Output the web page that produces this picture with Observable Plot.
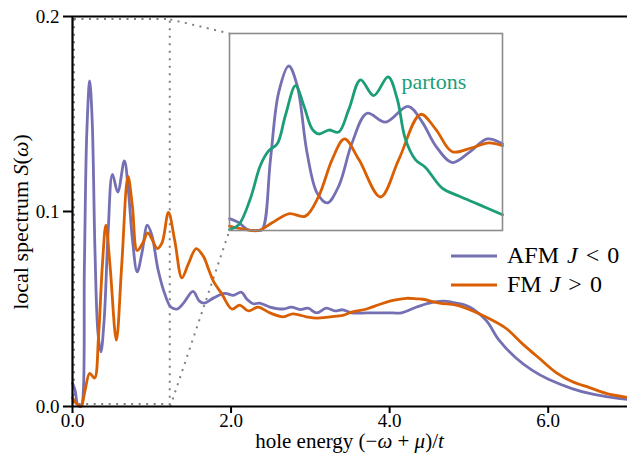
<!DOCTYPE html>
<html><head><meta charset="utf-8">
<script src="https://cdn.jsdelivr.net/npm/d3@7"></script>
<script src="https://cdn.jsdelivr.net/npm/@observablehq/plot@0.6"></script>
<style>
body{margin:0;background:#fff;}
#wrap{position:relative;width:627px;height:453px;font-family:"Liberation Serif","Times New Roman",serif;color:#000;}
#wrap svg{display:block}
.lbl{position:absolute;white-space:nowrap;line-height:1;}
#wrap g[aria-label^="x-axis"], #wrap g[aria-label^="y-axis"]{stroke-width:2px;}
</style></head><body><div id="wrap"></div>
<script>
// ---------- data ----------
const afmX = [0.00,0.034,0.065,0.10,0.12,0.15,0.18,0.217,0.248,0.284,0.321,0.358,0.40,0.449,0.504,0.571,0.654,0.706,0.755,0.816,0.877,0.944,1.00,1.08,1.17,1.24,1.32,1.40,1.52,1.60,1.66,1.78,1.92,2.03,2.13,2.20,2.28,2.36,2.49,2.66,2.76,2.87,2.97,3.08,3.20,3.31,3.41,3.52,3.71,3.87,4.04,4.15,4.34,4.50,4.67,4.84,4.95,5.05,5.22,5.38,5.59,5.80,6.01,6.30,6.52,6.73,7.00];
const afmY = [0.012,0.008,0.001,0.0,0.001,0.072,0.140,0.167,0.147,0.079,0.038,0.028,0.045,0.089,0.119,0.110,0.126,0.110,0.086,0.069,0.079,0.093,0.088,0.070,0.057,0.051,0.050,0.053,0.059,0.054,0.053,0.0557,0.058,0.057,0.0586,0.055,0.0527,0.053,0.051,0.050,0.051,0.0497,0.0504,0.048,0.0504,0.049,0.0496,0.048,0.048,0.048,0.048,0.048,0.051,0.053,0.054,0.053,0.052,0.050,0.044,0.034,0.025,0.0185,0.0138,0.0092,0.0067,0.0051,0.0036];
const fmX = [0.00,0.046,0.107,0.156,0.217,0.278,0.327,0.376,0.421,0.474,0.553,0.62,0.70,0.755,0.816,0.888,0.95,1.00,1.07,1.13,1.21,1.29,1.38,1.46,1.56,1.65,1.72,1.78,1.88,2.01,2.11,2.22,2.34,2.49,2.66,2.78,2.95,3.08,3.25,3.41,3.52,3.71,3.87,4.04,4.21,4.35,4.42,4.63,4.84,5.05,5.26,5.47,5.68,5.89,6.10,6.30,6.52,6.73,7.00];
const fmY = [0.0044,0.0017,0.0,0.0078,0.017,0.0146,0.035,0.072,0.093,0.072,0.034,0.072,0.118,0.103,0.080,0.084,0.089,0.086,0.081,0.084,0.0995,0.085,0.066,0.073,0.081,0.077,0.070,0.064,0.058,0.050,0.052,0.049,0.051,0.048,0.046,0.0475,0.046,0.0453,0.046,0.0467,0.0484,0.050,0.0523,0.0544,0.0555,0.0552,0.055,0.053,0.052,0.049,0.045,0.040,0.032,0.0246,0.0174,0.0128,0.0097,0.0067,0.0046];
const partonX = [0.00,0.034,0.076,0.113,0.144,0.175,0.205,0.242,0.272,0.303,0.327,0.364,0.40,0.437,0.48,0.528,0.581,0.614,0.644,0.681,0.718,0.779,0.84,0.912,1.00];
const partonY = [0.001,0.006,0.032,0.066,0.081,0.088,0.117,0.147,0.127,0.103,0.098,0.102,0.100,0.123,0.153,0.137,0.156,0.134,0.093,0.072,0.064,0.043,0.035,0.0265,0.016];

const xDomain = [0, 7];
const yDomain = [0, 0.2];
const xTicks = [0, 2, 4, 6];
const yTicks = [0, 0.1, 0.2];
const insetXDomain = [0, 1];
const insetYDomain = [0, 0.2];
const zoomBox = {x1: 0.025, x2: 1.233, y1: 0.001, y2: 0.1985};
const insetBox = {x1: 1.98, x2: 5.42, y1: 0.0903, y2: 0.1913};
const colors = {AFM: "#7570b3", FM: "#d95f02", partons: "#1b9e77"};
const partonsLabel = {x: 0.632, y: 0.149, text: "partons"};

const toRows = (xs, ys, s) => xs.map((x, i) => ({x, y: ys[i], s}));
const afm = toRows(afmX, afmY, "AFM");
const fm = toRows(fmX, fmY, "FM");
const partons = toRows(partonX, partonY, "partons");

const W = 627, H = 453, mL = 72, mR = 0, mT = 16, mB = 47;
const serif = "'Liberation Serif', 'Times New Roman', serif";
const lineOpts = (s) => ({x: "x", y: "y", stroke: colors[s], strokeWidth: 2.8, curve: "catmull-rom"});
const dotted = {stroke: "#808080", strokeWidth: 2, strokeDasharray: "2,5.5"};

const connectors = [
  {x1: zoomBox.x2, y1: zoomBox.y2, x2: insetBox.x1, y2: insetBox.y2},
  {x1: zoomBox.x2, y1: 0, x2: insetBox.x1, y2: insetBox.y1}
];

const main = Plot.plot({
  width: W, height: H, marginLeft: mL, marginRight: mR, marginTop: mT, marginBottom: mB,
  style: {fontFamily: serif, fontSize: "19px", background: "white", color: "black", overflow: "visible"},
  x: {domain: xDomain, ticks: xTicks, tickFormat: d3.format(".1f"), tickSize: 7, tickPadding: 0, label: null},
  y: {domain: yDomain, ticks: yTicks, tickFormat: d3.format(".1f"), tickSize: 9, tickPadding: 4, label: null},
  marks: [
    Plot.rect([zoomBox], {x1: "x1", x2: "x2", y1: "y1", y2: "y2", fill: "none", ...dotted}),
    Plot.link(connectors, {x1: "x1", y1: "y1", x2: "x2", y2: "y2", ...dotted}),
    Plot.line(afm, lineOpts("AFM")),
    Plot.line(fm, lineOpts("FM")),
    Plot.ruleY([yDomain[1]], {stroke: "black", strokeWidth: 2}),
    Plot.ruleY([yDomain[0]], {stroke: "black", strokeWidth: 2}),
    Plot.ruleX([xDomain[0]], {stroke: "black", strokeWidth: 2.2})
  ]
});

const wrap = document.getElementById("wrap");
wrap.appendChild(main);

// inset placement from the main scales
const scX = main.scale("x"), scY = main.scale("y");
const fx = scX && scX.apply ? (v) => scX.apply(v) : d3.scaleLinear(xDomain, [mL, W - mR]);
const fy = scY && scY.apply ? (v) => scY.apply(v) : d3.scaleLinear(yDomain, [H - mB, mT]);
const iL = fx(insetBox.x1), iR = fx(insetBox.x2), iT = fy(insetBox.y2), iB = fy(insetBox.y1);
const iW = Math.round(iR - iL), iH = Math.round(iB - iT);

const inX = (d) => d.x >= insetXDomain[0] && d.x <= insetXDomain[1];
const inset = Plot.plot({
  width: iW, height: iH, margin: 0,
  style: {fontFamily: serif, background: "white", overflow: "visible"},
  x: {domain: insetXDomain, axis: null},
  y: {domain: insetYDomain, axis: null},
  marks: [
    Plot.line(afm.filter(inX), lineOpts("AFM")),
    Plot.line(fm.filter(inX), lineOpts("FM")),
    Plot.line(partons, lineOpts("partons")),
    Plot.frame({stroke: "#8c8c8c", strokeWidth: 1.6})
  ]
});
inset.style.position = "absolute";
inset.style.left = iL + "px";
inset.style.top = iT + "px";
wrap.appendChild(inset);

// "partons" label placed through the inset's scales
const isx = inset.scale("x"), isy = inset.scale("y");
const gx = isx && isx.apply ? (v) => isx.apply(v) : d3.scaleLinear(insetXDomain, [0, iW]);
const gy = isy && isy.apply ? (v) => isy.apply(v) : d3.scaleLinear(insetYDomain, [iH, 0]);
const pl = document.createElement("div");
pl.className = "lbl"; pl.textContent = partonsLabel.text;
pl.style.fontSize = "22px"; pl.style.color = colors.partons;
pl.style.left = (iL + gx(partonsLabel.x)) + "px";
pl.style.top = (iT + gy(partonsLabel.y)) + "px";
pl.style.transform = "translateY(-55%)";
wrap.appendChild(pl);

// legend
const legendItems = [
  {s: "AFM", html: "AFM <i>J</i> &lt; 0", y: 256},
  {s: "FM", html: "FM <i>J</i> &gt; 0", y: 285}
];
legendItems.forEach(it => {
  const sw = document.createElementNS("http://www.w3.org/2000/svg", "svg");
  sw.setAttribute("width", 46); sw.setAttribute("height", 6);
  sw.style.position = "absolute"; sw.style.left = "451px"; sw.style.top = (it.y - 3) + "px";
  const ln = document.createElementNS("http://www.w3.org/2000/svg", "line");
  ln.setAttribute("x1", 0); ln.setAttribute("x2", 46); ln.setAttribute("y1", 3); ln.setAttribute("y2", 3);
  ln.setAttribute("stroke", colors[it.s]); ln.setAttribute("stroke-width", 2.8);
  sw.appendChild(ln); wrap.appendChild(sw);
  const t = document.createElement("div");
  t.className = "lbl"; t.innerHTML = it.html;
  t.style.fontSize = "24px"; t.style.wordSpacing = "2px"; t.style.left = "507px"; t.style.top = (it.y - 13) + "px";
  wrap.appendChild(t);
});

// axis labels
const xl = document.createElement("div");
xl.className = "lbl"; xl.style.fontSize = "21px";
xl.innerHTML = "hole energy (&minus;<i>ω</i> + <i>μ</i>)/<i>t</i>";
xl.style.left = ((mL + W - mR) / 2) + "px"; xl.style.top = "441px";
xl.style.transform = "translate(-50%,-50%)";
wrap.appendChild(xl);

const yl = document.createElement("div");
yl.className = "lbl"; yl.style.fontSize = "22px";
yl.innerHTML = "local spectrum <i>S</i>(<i>ω</i>)";
yl.style.left = "21px"; yl.style.top = "222px";
yl.style.transform = "translate(-50%,-50%) rotate(-90deg)";
wrap.appendChild(yl);
</script></body></html>
